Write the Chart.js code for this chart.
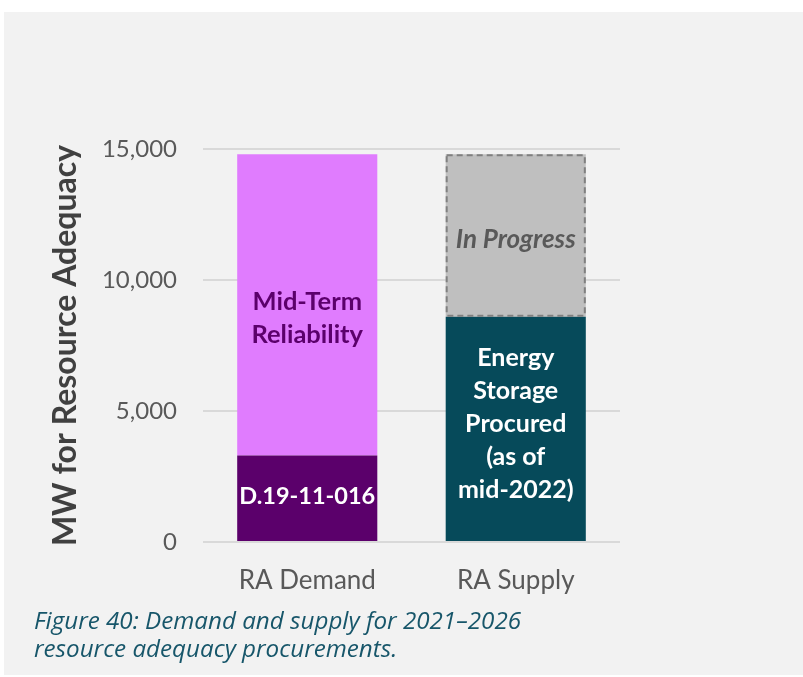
<!DOCTYPE html>
<html>
<head>
<meta charset="utf-8">
<script src="https://cdn.jsdelivr.net/npm/chart.js@4"></script>
<style>
  html, body { margin: 0; padding: 0; background: #ffffff; }
  #panel {
    position: absolute; left: 4px; top: 12px; width: 799px; height: 663px;
    background: #f2f2f2;
  }
  #chart { position: absolute; left: 0; top: 0; }
  #caption {
    position: absolute; left: 30px; top: 594px;
    font-family: "Open Sans", Lato, sans-serif; font-style: italic; font-size: 24.2px;
    line-height: 28px; color: #17566a;
  }
</style>
</head>
<body>
<div id="panel">
  <canvas id="chart" width="799" height="663"></canvas>
  <div id="caption">Figure 40: Demand and supply for 2021–2026<br>resource adequacy procurements.</div>
</div>
<script>
// Categories and stacked segment values (MW)
const categories = ['RA Demand', 'RA Supply'];
const decisionMW   = [3300, null];   // D.19-11-016
const midTermMW    = [11500, null];  // Mid-Term Reliability
const storageMW    = [null, 8600];   // Energy storage procured as of mid-2022
const inProgressMW = [null, 6200];   // Still in progress
const yTicks = [0, 5000, 10000, 15000];

// Text written inside each segment
const decisionLines   = ['D.19-11-016'];
const midTermLines    = ['Mid-Term', 'Reliability'];
const storageLines    = ['Energy', 'Storage', 'Procured', '(as of', 'mid-2022)'];
const inProgressLines = ['In Progress'];

const FONT = 'Lato, "Open Sans", sans-serif';

// Dashed outline around segments flagged with outlineDash
const dashedOutline = {
  id: 'dashedOutline',
  afterDatasetsDraw(chart) {
    const ctx = chart.ctx;
    chart.data.datasets.forEach((ds, i) => {
      if (!ds.outlineDash) return;
      chart.getDatasetMeta(i).data.forEach((bar, j) => {
        if (ds.data[j] == null) return;
        const { x, y, base, width } = bar.getProps(['x', 'y', 'base', 'width'], true);
        ctx.save();
        ctx.strokeStyle = ds.outlineColor;
        ctx.lineWidth = 2;
        ctx.setLineDash(ds.outlineDash);
        ctx.strokeRect(x - width / 2 + 1, y + 1, width - 2, base - y - 2);
        ctx.restore();
      });
    });
  }
};

// Centered multi-line labels inside the bar segments
const segmentLabels = {
  id: 'segmentLabels',
  afterDatasetsDraw(chart) {
    const ctx = chart.ctx;
    chart.data.datasets.forEach((ds, i) => {
      if (!ds.textLines) return;
      chart.getDatasetMeta(i).data.forEach((bar, j) => {
        if (ds.data[j] == null) return;
        const { x, y, base } = bar.getProps(['x', 'y', 'base'], true);
        const lh = ds.textLineHeight;
        const n = ds.textLines.length;
        const cy = (y + base) / 2 + (ds.textOffset || 0);
        ctx.save();
        ctx.font = (ds.textItalic ? 'italic ' : '') + 'bold ' + ds.textSize + 'px ' + FONT;
        ctx.fillStyle = ds.textColor;
        ctx.textAlign = 'center';
        ctx.textBaseline = 'middle';
        ds.textLines.forEach((t, k) => {
          ctx.fillText(t, x, cy + (k - (n - 1) / 2) * lh);
        });
        ctx.restore();
      });
    });
  }
};

new Chart(document.getElementById('chart'), {
  type: 'bar',
  data: {
    labels: categories,
    datasets: [
      { label: 'D.19-11-016', data: decisionMW, backgroundColor: '#5b006b',
        textLines: decisionLines, textColor: '#ffffff', textSize: 23.5, textLineHeight: 33, textOffset: -2 },
      { label: 'Mid-Term Reliability', data: midTermMW, backgroundColor: '#e07cfe',
        textLines: midTermLines, textColor: '#5b006b', textSize: 25.5, textLineHeight: 33, textOffset: 13 },
      { label: 'Energy Storage Procured', data: storageMW, backgroundColor: '#064a5a',
        textLines: storageLines, textColor: '#ffffff', textSize: 25, textLineHeight: 33, textOffset: -5 },
      { label: 'In Progress', data: inProgressMW, backgroundColor: '#bfbfbf',
        outlineDash: [6, 4], outlineColor: '#808080',
        textLines: inProgressLines, textColor: '#595959', textSize: 26, textLineHeight: 33,
        textItalic: true, textOffset: 4 }
    ]
  },
  options: {
    responsive: false,
    animation: false,
    layout: { padding: { left: 38, right: 183, top: 137, bottom: 0 } },
    datasets: { bar: { barPercentage: 0.672, categoryPercentage: 1.0, borderWidth: 0 } },
    plugins: { legend: { display: false }, tooltip: { enabled: false } },
    scales: {
      x: {
        stacked: true,
        afterFit(scale) { scale.height = 133; },
        grid: { display: false, drawTicks: false },
        border: { display: false },
        ticks: { color: '#595959', font: { family: FONT, size: 26 }, padding: 23 }
      },
      y: {
        stacked: true,
        min: 0, max: 15000,
        afterFit(scale) { scale.width = 161; },
        afterBuildTicks(scale) { scale.ticks = yTicks.map(v => ({ value: v })); },
        grid: { color: '#d9d9d9', lineWidth: 2, drawTicks: false },
        border: { display: false },
        ticks: {
          color: '#595959', font: { family: FONT, size: 24 }, padding: 26,
          callback: v => v.toLocaleString('en-US')
        },
        title: {
          display: true, text: 'MW for Resource Adequacy', color: '#404040',
          font: { family: FONT, size: 32, weight: 'bold' }, padding: { top: 4, bottom: 4 }
        }
      }
    }
  },
  plugins: [dashedOutline, segmentLabels]
});
</script>
</body>
</html>
